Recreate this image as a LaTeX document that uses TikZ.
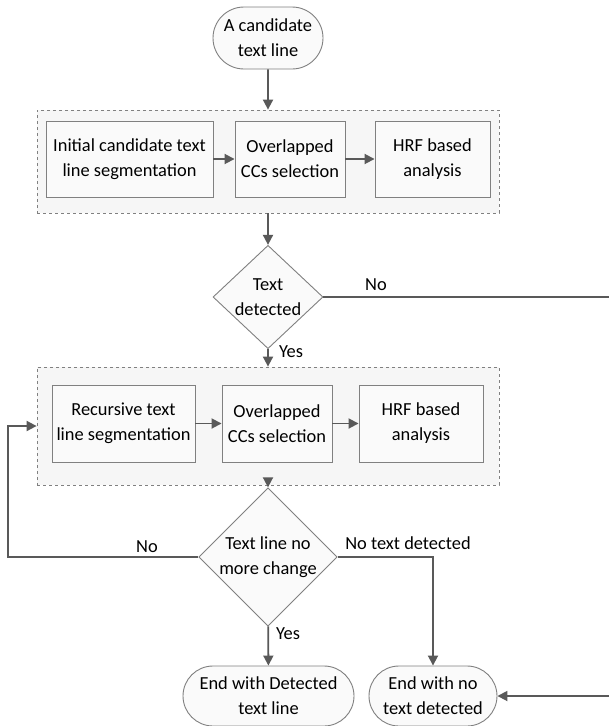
\documentclass[tikz,border=0pt]{standalone}
\usepackage{fontspec}
\setmainfont{Carlito}
\usetikzlibrary{shapes.geometric,shapes.misc,arrows.meta}
\definecolor{linec}{HTML}{595959}
\definecolor{borderc}{HTML}{808080}
\definecolor{boxfill}{HTML}{FAFAFA}
\definecolor{groupfill}{HTML}{F6F6F6}
\tikzset{
  txt/.style={font=\fontsize{18.4}{25}\selectfont, text=black},
  procbox/.style={txt, draw=borderc, line width=0.9pt, fill=boxfill, align=center, inner sep=0pt},
  groupbox/.style={draw=borderc, dashed, line width=0.8pt, fill=groupfill, inner sep=0pt},
  term/.style={txt, rounded rectangle, draw=borderc, line width=0.9pt, fill=boxfill, align=center, inner sep=0pt},
  decision/.style={txt, diamond, draw=borderc, line width=0.9pt, fill=boxfill, align=center, inner sep=0pt},
  conn/.style={draw=linec, line width=1.8pt, -{Triangle[length=10pt,width=10pt]}},
  plainconn/.style={draw=linec, line width=1.8pt},
  lbl/.style={txt, inner sep=0pt}
}
\begin{document}
\begin{tikzpicture}[x=1pt,y=-1pt]
\clip (0,0) rectangle (609,726);
\useasboundingbox (0,0) rectangle (609,726);
\fill[white] (0,0) rectangle (609,726);

\node[term, minimum width=110pt, minimum height=62pt] (start) at (268,38) {A candidate\\text line};

\node[groupbox, minimum width=462pt, minimum height=103pt] (g1) at (268,161.5) {};
\node[procbox, minimum width=167pt, minimum height=76pt] (a) at (129.5,159) {Initial candidate text\\line segmentation};
\node[procbox, minimum width=110pt, minimum height=76pt] (b) at (290,159) {Overlapped\\CCs selection};
\node[procbox, minimum width=115pt, minimum height=76pt] (c) at (432.5,159) {HRF based\\analysis};

\node[decision, minimum width=110pt, minimum height=80pt] (d1) at (268,297) {Text\\detected};

\node[groupbox, minimum width=462pt, minimum height=118pt] (g2) at (268,426) {};
\node[procbox, minimum width=143pt, minimum height=77pt] (d) at (123.5,423.5) {Recursive text\\line segmentation};
\node[procbox, minimum width=110pt, minimum height=77pt] (e) at (277,423.5) {Overlapped\\CCs selection};
\node[procbox, minimum width=124pt, minimum height=77pt] (f) at (421,423.5) {HRF based\\analysis};

\node[decision, minimum width=136pt, minimum height=96pt] (d2) at (268,557) {Text line no\\more change};

\node[term, minimum width=171pt, minimum height=60pt] (end1) at (268.5,696) {End with Detected\\text line};
\node[term, minimum width=128pt, minimum height=60pt] (end2) at (433,696) {End with no\\text detected};

\coordinate (r1) at (614,297);
\coordinate (r2) at (614,696);
\coordinate (l1) at (8,557);
\coordinate (l2) at (8,426);
\coordinate (t1) at (433,557);

\draw[conn] (start) -- (g1);
\draw[conn] (a) -- (b);
\draw[conn] (b) -- (c);
\draw[conn] (g1) -- (d1);
\draw[conn] (d1) -- (g2);
\draw[conn] (d) -- (e);
\draw[conn] (e) -- (f);
\draw[conn] (g2) -- (d2);
\draw[conn] (d2) -- (end1);
\draw[conn] (d2.east) -- (t1) -- (end2.north);
\draw[conn] (d2.west) -- (l1) -- (l2) -- (g2.west);
\draw[conn] (d1.east) -- (r1) -- (r2) -- (end2.east);

\node[lbl] (no1) at (376,285) {No};
\node[lbl] (yes1) at (291,352) {Yes};
\node[lbl] (no2) at (147,547) {No};
\node[lbl] (notd) at (408,543) {No text detected};
\node[lbl] (yes2) at (288,634) {Yes};
\end{tikzpicture}
\end{document}
